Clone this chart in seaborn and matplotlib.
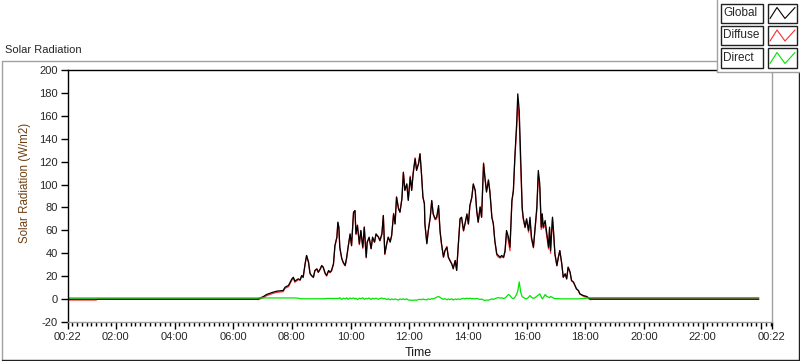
import matplotlib
matplotlib.use("Agg")
import matplotlib.pyplot as plt
import matplotlib.dates as mdates
from matplotlib.patches import Rectangle
from matplotlib.lines import Line2D
import pandas as pd
import seaborn as sns

# readings of one day, times as HH:MM
time_hhmm = [
    "00:22", "01:20", "01:22", "06:45", "06:51", "07:02", "07:08", "07:22", "07:29", "07:42",
    "07:46", "07:53", "08:00", "08:03", "08:06", "08:13", "08:17", "08:20", "08:23", "08:27",
    "08:30", "08:34", "08:37", "08:40", "08:44", "08:47", "08:51", "08:54", "08:58", "09:01",
    "09:04", "09:08", "09:11", "09:15", "09:18", "09:21", "09:25", "09:28", "09:32", "09:34",
    "09:36", "09:38", "09:42", "09:45", "09:49", "09:52", "09:55", "09:59", "10:02", "10:06",
    "10:09", "10:11", "10:14", "10:18", "10:21", "10:25", "10:28", "10:32", "10:34", "10:38",
    "10:42", "10:45", "10:49", "10:52", "10:57", "11:00", "11:04", "11:07", "11:10", "11:14",
    "11:17", "11:21", "11:24", "11:28", "11:31", "11:34", "11:38", "11:41", "11:45", "11:48",
    "11:51", "11:55", "11:58", "12:02", "12:05", "12:08", "12:12", "12:15", "12:19", "12:22",
    "12:25", "12:28", "12:31", "12:32", "12:36", "12:39", "12:43", "12:46", "12:49", "12:53",
    "12:56", "13:00", "13:03", "13:06", "13:10", "13:13", "13:17", "13:20", "13:23", "13:27",
    "13:30", "13:34", "13:37", "13:40", "13:44", "13:47", "13:51", "13:54", "13:58", "14:01",
    "14:04", "14:08", "14:11", "14:15", "14:18", "14:21", "14:25", "14:28", "14:32", "14:35",
    "14:38", "14:42", "14:45", "14:49", "14:52", "14:55", "14:59", "15:02", "15:06", "15:09",
    "15:13", "15:16", "15:19", "15:23", "15:26", "15:30", "15:33", "15:36", "15:40", "15:42",
    "15:45", "15:48", "15:51", "15:53", "15:57", "16:00", "16:04", "16:07", "16:10", "16:14",
    "16:17", "16:21", "16:24", "16:27", "16:30", "16:32", "16:34", "16:38", "16:41", "16:45",
    "16:47", "16:49", "16:53", "16:55", "16:58", "17:02", "17:05", "17:08", "17:12", "17:15",
    "17:19", "17:22", "17:25", "17:29", "17:32", "17:36", "17:39", "17:42", "17:46", "17:49",
    "17:56", "18:03", "18:10", "18:17", "23:55",
]
global_rad = [
    0.0, 0.0, 0.0, 0.0, 0.2, 2.3, 4.0, 6.1, 6.9, 7.5,
    10.4, 11.9, 17.7, 19.1, 15.7, 17.7, 16.8, 20.6, 19.1, 30.8,
    38.1, 32.2, 22.6, 20.6, 19.1, 25.0, 26.4, 23.5, 26.4, 29.3,
    27.9, 22.6, 20.6, 25.0, 23.5, 25.0, 30.8, 46.8, 54.1, 67.2,
    62.8, 45.3, 35.2, 32.2, 29.3, 36.6, 45.3, 57.0, 46.8, 75.9,
    77.3, 57.0, 64.3, 48.3, 59.9, 45.3, 62.8, 36.6, 49.7, 54.1,
    43.9, 54.1, 49.7, 57.0, 54.1, 51.2, 57.0, 73.0, 39.5, 48.3,
    54.1, 49.7, 55.5, 74.4, 65.7, 89.0, 78.8, 75.9, 87.5, 110.8,
    94.8, 100.6, 86.1, 106.4, 94.8, 109.4, 122.5, 112.3, 118.1, 126.8,
    109.4, 89.0, 83.2, 65.7, 48.3, 59.9, 71.5, 86.1, 74.4, 70.1,
    71.5, 81.7, 59.9, 48.3, 36.6, 42.4, 45.3, 36.6, 33.7, 30.8,
    26.4, 33.7, 25.0, 45.3, 70.1, 71.5, 59.9, 65.7, 74.4, 65.7,
    81.7, 89.0, 100.6, 94.8, 77.3, 67.2, 80.3, 71.5, 118.1, 105.0,
    93.4, 103.5, 93.4, 71.5, 65.7, 51.2, 39.5, 38.1, 36.6, 38.1,
    36.6, 42.4, 59.9, 54.1, 45.3, 86.1, 94.8, 123.9, 155.9, 179.2,
    164.6, 121.0, 80.3, 71.5, 62.8, 70.1, 59.9, 71.5, 54.1, 45.3,
    59.9, 80.3, 112.3, 100.6, 62.8, 74.4, 62.8, 68.6, 58.4, 45.3,
    62.8, 42.4, 71.5, 59.9, 39.5, 29.3, 36.6, 42.4, 30.8, 19.1,
    22.1, 17.7, 27.9, 23.5, 16.2, 14.8, 11.9, 9.0, 7.5, 4.6,
    3.1, 2.3, 0.2, 0.0, 0.0,
]
diffuse_rad = [
    -0.8, -0.8, 0.0, 0.0, -0.5, 1.3, 3.0, 5.1, 5.9, 6.5,
    9.4, 10.9, 16.7, 18.1, 14.7, 16.9, 16.5, 20.3, 18.8, 30.5,
    37.9, 31.9, 22.3, 20.4, 18.8, 24.7, 26.2, 23.2, 26.1, 29.1,
    27.6, 22.3, 20.1, 24.4, 23.0, 24.4, 30.4, 46.2, 53.6, 66.5,
    62.3, 44.1, 35.5, 31.4, 29.1, 35.5, 45.5, 56.1, 46.4, 74.9,
    77.2, 56.3, 64.7, 47.5, 59.6, 44.2, 63.0, 36.0, 49.5, 53.2,
    44.2, 53.4, 49.6, 56.2, 54.3, 50.7, 56.1, 72.8, 38.9, 48.7,
    53.8, 50.3, 55.4, 74.9, 65.5, 89.3, 79.6, 75.8, 87.9, 110.5,
    95.3, 100.4, 86.8, 107.4, 95.7, 110.5, 123.3, 113.3, 118.5, 127.0,
    110.0, 88.9, 83.6, 66.0, 49.0, 59.7, 71.8, 85.7, 74.2, 69.2,
    69.9, 79.4, 58.4, 47.7, 36.8, 42.0, 45.9, 36.4, 34.2, 30.5,
    27.2, 33.6, 25.4, 45.1, 70.4, 71.2, 59.3, 65.5, 73.6, 65.3,
    81.0, 88.7, 100.1, 94.7, 76.7, 67.0, 80.7, 71.4, 119.0, 106.1,
    94.2, 104.5, 93.9, 71.3, 66.0, 50.9, 38.5, 36.8, 35.8, 36.9,
    36.1, 41.4, 57.7, 50.1, 42.2, 85.1, 94.4, 122.4, 151.4, 172.0,
    155.0, 115.0, 78.3, 69.9, 62.3, 69.9, 58.4, 68.4, 52.5, 44.7,
    58.7, 77.8, 108.8, 96.0, 60.8, 74.2, 61.8, 64.6, 55.9, 43.7,
    61.6, 40.1, 70.0, 59.1, 39.0, 28.9, 36.3, 42.2, 30.6, 18.9,
    21.9, 17.5, 27.7, 23.3, 16.0, 14.6, 11.7, 8.8, 7.3, 4.3,
    2.6, 1.5, -0.5, 0.0, 0.0,
]
direct_rad = [
    1.0, 1.0, 1.0, 1.0, 1.0, 1.0, 1.0, 1.0, 1.0, 1.0,
    1.0, 1.0, 1.0, 1.0, 1.0, 0.8, 0.3, 0.3, 0.3, 0.3,
    0.2, 0.3, 0.3, 0.2, 0.3, 0.3, 0.2, 0.3, 0.3, 0.2,
    0.3, 0.3, 0.5, 0.6, 0.5, 0.6, 0.4, 0.6, 0.5, 0.7,
    0.5, 1.2, -0.3, 0.8, 0.2, 1.1, -0.2, 0.9, 0.4, 1.0,
    0.1, 0.7, -0.4, 0.8, 0.3, 1.1, -0.2, 0.6, 0.2, 0.9,
    -0.3, 0.7, 0.1, 0.8, -0.2, 0.5, 0.9, 0.2, 0.6, -0.4,
    0.3, -0.6, 0.1, -0.5, 0.2, -0.3, -0.8, 0.1, -0.4, 0.3,
    -0.5, 0.2, -0.7, -1.0, -0.9, -1.1, -0.8, -1.0, -0.4, -0.2,
    -0.6, 0.1, -0.4, -0.3, -0.7, 0.2, -0.3, 0.4, 0.2, 0.9,
    1.6, 2.3, 1.5, 0.6, -0.2, 0.4, -0.6, 0.2, -0.5, 0.3,
    -0.8, 0.1, -0.4, 0.2, -0.3, 0.3, 0.6, 0.2, 0.8, 0.4,
    0.7, 0.3, 0.5, 0.1, 0.6, 0.2, -0.4, 0.1, -0.9, -1.1,
    -0.8, -1.0, -0.5, 0.2, -0.3, 0.3, 1.0, 1.3, 0.8, 1.2,
    0.5, 1.0, 2.2, 4.0, 3.1, 1.0, 0.4, 1.5, 4.5, 7.2,
    15.0, 6.0, 2.0, 1.6, 0.5, 0.2, 1.5, 3.1, 1.6, 0.6,
    1.2, 2.5, 3.5, 4.6, 2.0, 0.2, 1.0, 4.0, 2.5, 1.6,
    1.2, 2.3, 1.5, 0.8, 0.5, 0.4, 0.3, 0.2, 0.2, 0.2,
    0.2, 0.2, 0.2, 0.2, 0.2, 0.2, 0.2, 0.2, 0.2, 0.3,
    0.5, 0.8, 1.2, 1.3, 1.3,
]

series_names = ["Global", "Diffuse", "Direct"]
series_colors = {"Global": "#000000", "Diffuse": "#ff2a2a", "Direct": "#00e600"}

x_tick_times = [
    "2020-01-01 00:22", "2020-01-01 02:00", "2020-01-01 04:00", "2020-01-01 06:00",
    "2020-01-01 08:00", "2020-01-01 10:00", "2020-01-01 12:00", "2020-01-01 14:00",
    "2020-01-01 16:00", "2020-01-01 18:00", "2020-01-01 20:00", "2020-01-01 22:00",
    "2020-01-02 00:00", "2020-01-02 00:22",
]
x_tick_labels = [
    "00:22", "02:00", "04:00", "06:00", "08:00", "10:00", "12:00", "14:00",
    "16:00", "18:00", "20:00", "22:00", "", "00:22",
]
y_ticks = [-20, 0, 20, 40, 60, 80, 100, 120, 140, 160, 180, 200]

df = pd.DataFrame({
    "time": pd.to_datetime(["2020-01-01 " + t for t in time_hhmm]),
    "Global": global_rad,
    "Diffuse": diffuse_rad,
    "Direct": direct_rad,
})

sns.set_style("white")
plt.rcParams["font.family"] = ["Liberation Sans", "DejaVu Sans"]
plt.rcParams["axes.unicode_minus"] = False

W, H = 800, 361
def fx(px):
    return px / W
def fy(py):
    return 1 - py / H

fig = plt.figure(figsize=(W / 100, H / 100), dpi=100)
fig.patch.set_facecolor("white")
ax = fig.add_axes([fx(68), fy(322), (772 - 68) / W, (322 - 70) / H])

for name in ["Diffuse", "Global", "Direct"]:
    sns.lineplot(data=df, x="time", y=name, color=series_colors[name],
                 lw=0.9, estimator=None, ax=ax)

ax.set_xlim(pd.Timestamp(x_tick_times[0]), pd.Timestamp(x_tick_times[-1]))
ax.set_ylim(-20, 200)
ax.set_yticks(y_ticks)
ax.set_xticks(mdates.date2num(pd.to_datetime(x_tick_times)))
ax.set_xticklabels(x_tick_labels)
ax.xaxis.set_minor_locator(mdates.MinuteLocator(byminute=[0, 10, 20, 30, 40, 50]))

ax.tick_params(axis="both", which="major", direction="out", length=5, width=1,
               color="black", labelsize=8, pad=2.5, bottom=True, left=True)
ax.tick_params(axis="x", which="minor", direction="out", length=3, width=1,
               color="black", bottom=True)

for side in ["top", "left"]:
    ax.spines[side].set_color("black")
for side in ["bottom", "right"]:
    ax.spines[side].set_color("#a0a0a0")
for sp in ax.spines.values():
    sp.set_linewidth(1)

ax.set_ylabel("Solar Radiation (W/m2)", fontsize=8.3, color="#6e3f12")
ax.yaxis.set_label_coords(-0.052, 0.55)
ax.set_xlabel("Time", fontsize=9, color="#1a1a1a")
ax.xaxis.set_label_coords(0.497, -0.098)

# outer frame of the chart panel
fig.add_artist(Line2D([fx(2), fx(717)], [fy(61), fy(61)], color="#a0a0a0", lw=1))
fig.add_artist(Line2D([fx(2), fx(2)], [fy(61), fy(359.5)], color="#a0a0a0", lw=1))
fig.add_artist(Line2D([fx(2), fx(799)], [fy(359.5), fy(359.5)], color="#202020", lw=1))
fig.add_artist(Line2D([fx(799), fx(799)], [fy(72), fy(359.5)], color="#202020", lw=1))
fig.text(fx(5), fy(50), "Solar Radiation", fontsize=8, va="center", ha="left")

# legend panel
fig.add_artist(Rectangle((fx(717), fy(72)), fx(83), 72 / H, transform=fig.transFigure,
                         facecolor="white", edgecolor="none", zorder=5))
fig.add_artist(Line2D([fx(717), fx(717)], [fy(0), fy(72)], color="#a0a0a0", lw=1, zorder=6))
fig.add_artist(Line2D([fx(717), fx(800)], [fy(72), fy(72)], color="#a0a0a0", lw=1, zorder=6))
row_tops = [3.5, 26, 48.5]
for name, top in zip(series_names, row_tops):
    fig.add_artist(Rectangle((fx(721), fy(top + 19)), 42 / W, 19 / H, transform=fig.transFigure,
                             facecolor="white", edgecolor="#202020", lw=1, zorder=7))
    fig.text(fx(723), fy(top + 9.5), name, fontsize=8.5, va="center", ha="left", zorder=8)
    fig.add_artist(Rectangle((fx(768), fy(top + 19)), 29 / W, 19 / H, transform=fig.transFigure,
                             facecolor="white", edgecolor="#202020", lw=1, zorder=7))
    zx = [770, 777, 785, 795]
    zy = [top + 15, top + 4, top + 15, top + 4]
    fig.add_artist(Line2D([fx(v) for v in zx], [fy(v) for v in zy], color=series_colors[name],
                          lw=0.8, zorder=8))

fig.savefig("out.png", dpi=100)
